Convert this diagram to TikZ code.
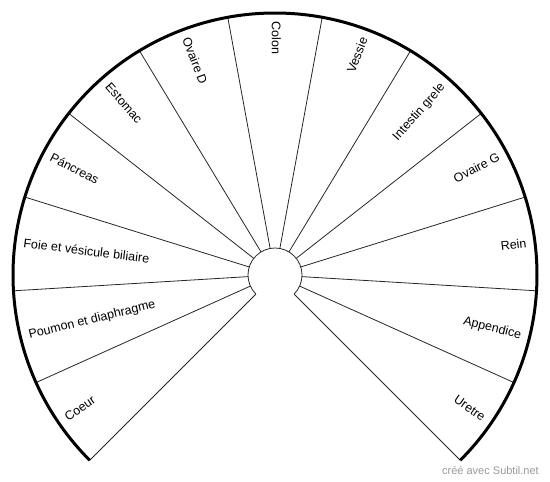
\documentclass[tikz,border=0pt]{standalone}
\usepackage{fontspec}
\setmainfont{Liberation Sans}
\usetikzlibrary{calc}
\begin{document}
\begin{tikzpicture}[x=1pt,y=1pt,
  divider/.style={line width=0.8pt, draw=black!85},
  rim/.style={line width=3pt, draw=black},
  lbl/.style={font=\fontsize{12.5}{15}\selectfont, inner sep=0pt, text height=9pt, text depth=2.6pt},
  credit/.style={font=\fontsize{11}{13}\selectfont, text=black!40, inner sep=0pt}]
\useasboundingbox (0,-482) rectangle (550,0);
\coordinate (c) at (275,-275);
\def\rin{27}
\def\rout{262}
\def\angstep{20.76923}
\foreach \k in {0,...,13}{
  \pgfmathsetmacro\a{225-\k*\angstep}
  \coordinate (i\k) at ($(c)+(\a:\rin)$);
  \coordinate (o\k) at ($(c)+(\a:\rout)$);
}
% inner arc and fan
\draw[divider] (i0) arc[start angle=225, end angle=-45, radius=\rin];
\foreach \k in {0,...,13}{
  \draw[divider] (i\k) -- (o\k);
}
\draw[rim] (o0) arc[start angle=225, end angle=-45, radius=\rout];
% labels
\foreach \n [count=\k from 0] in {Coeur, Poumon et diaphragme, Foie et vésicule biliaire, Páncreas, Estomac, Ovaire D, Colon, Vessie, Intestin grele, Ovaire G, Rein, Appendice, Uretre}{
  \pgfmathsetmacro\a{225-(\k+0.5)*\angstep}
  \ifnum\k<7
    \node[lbl, anchor=west, rotate=\a+180] (l\k) at ($(c)+(\a:253.5)$) {\n};
  \else
    \node[lbl, anchor=east, rotate=\a] (l\k) at ($(c)+(\a:253.5)$) {\n};
  \fi
}
\node[credit, anchor=mid east] (credit) at (539,-471.5) {créé avec Subtil.net};
\end{tikzpicture}
\end{document}
